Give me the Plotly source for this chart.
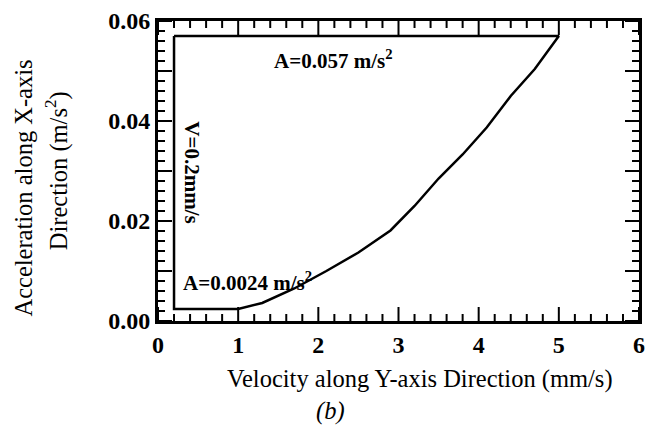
import numpy as np
import plotly.graph_objects as go

# Lower acceleration limit as a function of Y-axis velocity (mm/s, m/s^2)
velocity = [1.0, 1.3, 1.7, 2.1, 2.5, 2.9, 3.2, 3.5, 3.8, 4.1, 4.4, 4.7, 5.0]
accel = [0.0024, 0.0036, 0.0065, 0.0100, 0.0137, 0.0181, 0.0230, 0.0285,
         0.0333, 0.0387, 0.0450, 0.0504, 0.057]

V_MIN = 0.2      # minimum velocity, mm/s
A_MIN = 0.0024   # minimum acceleration, m/s^2
A_MAX = 0.057    # maximum acceleration, m/s^2

X_RANGE = [0, 6]
Y_RANGE = [0, 0.06]
x_labels = [0, 1, 2, 3, 4, 5, 6]
x_labeltext = ["0", "1", "2", "3", "4", "5", "6"]
y_labels = [0.00, 0.02, 0.04, 0.06]
y_labeltext = ["0.00", "0.02", "0.04", "0.06"]

# tick mark positions: majors every 1 / 0.01, minors every 0.2 / 0.002
x_major = np.arange(0, 6.001, 1.0)
x_minor = np.array([v for v in np.arange(0, 6.001, 0.2)
                    if abs(v - round(v)) > 1e-6])
y_major = np.arange(0, 0.06001, 0.01)
y_minor = np.array([v for v in np.arange(0, 0.06001, 0.002)
                    if abs(v / 0.01 - round(v / 0.01)) > 1e-6])

# Closed boundary of the admissible region
xs = [V_MIN, V_MIN] + velocity + [V_MIN]
ys = [A_MAX, A_MIN] + accel + [A_MAX]

SERIF = "Liberation Serif"

fig = go.Figure()
fig.add_trace(go.Scatter(x=xs, y=ys, mode="lines",
                         line=dict(color="black", width=2.5),
                         showlegend=False, hoverinfo="skip"))

# Inward tick marks on all four frame edges: line markers centred on the
# edge, with the outer half clipped away by the plot area.
def tick_trace(x, y, symbol, size):
    return go.Scatter(x=x, y=y, mode="markers", cliponaxis=True,
                      marker=dict(symbol=symbol, size=size, color="black",
                                  line=dict(color="black", width=2)),
                      showlegend=False, hoverinfo="skip")

for edge in Y_RANGE:
    fig.add_trace(tick_trace(x_major, np.full(len(x_major), edge), "line-ns", 20))
    fig.add_trace(tick_trace(x_minor, np.full(len(x_minor), edge), "line-ns", 10))
for edge in X_RANGE:
    fig.add_trace(tick_trace(np.full(len(y_major), edge), y_major, "line-ew", 20))
    fig.add_trace(tick_trace(np.full(len(y_minor), edge), y_minor, "line-ew", 10))

tick_font = dict(family=SERIF, size=24, color="black")

fig.update_layout(
    xaxis=dict(range=X_RANGE, tickmode="array", tickvals=x_labels,
               ticktext=["<b>%s</b>" % t for t in x_labeltext],
               showgrid=False, zeroline=False, ticks="",
               showline=True, linecolor="black", linewidth=3, mirror=True,
               tickfont=tick_font),
    yaxis=dict(range=Y_RANGE, tickmode="array", tickvals=y_labels,
               ticktext=["<b>%s</b>" % t for t in y_labeltext],
               showgrid=False, zeroline=False, ticks="",
               showline=True, linecolor="black", linewidth=3, mirror=True,
               tickfont=tick_font),
)

label_font = dict(family=SERIF, size=21, color="black")
title_font = dict(family=SERIF, size=24.5, color="black")

annotations = [
    dict(x=2.18, y=0.0523, xref="x", yref="y", showarrow=False,
         text="<b>A=0.057 m/s<sup>2</sup></b>", font=label_font),
    dict(x=0.29, y=0.0079, xref="x", yref="y", showarrow=False,
         xanchor="left", text="<b>A=0.0024 m/s<sup>2</sup></b>", font=label_font),
    dict(x=0.42, y=0.0298, xref="x", yref="y", showarrow=False,
         textangle=90, text="<b>V=0.2mm/s</b>", font=label_font),
    # axis titles and caption
    dict(x=423, y=379, showarrow=False,
         text="Velocity along Y-axis Direction (mm/s)", font=title_font),
    dict(x=22, y=187, showarrow=False, textangle=-90,
         text="Acceleration along X-axis", font=title_font),
    dict(x=55, y=170, showarrow=False, textangle=-90,
         text="Direction (m/s<sup>2</sup>)", font=title_font),
    dict(x=333, y=412, showarrow=False, text="<i>(b)</i>", font=title_font),
]

# convert pixel-positioned labels to paper coordinates
W, H = 653, 429
L, R, T, B = 158, 8, 19, 108
pw, ph = W - L - R, H - T - B
for a in annotations:
    if a.get("xref") != "x":
        px, py = a["x"], a["y"]
        a["xref"], a["yref"] = "paper", "paper"
        a["x"] = (px - L) / pw
        a["y"] = (H - B - py) / ph
        a["xanchor"] = "center"
        a["yanchor"] = "middle"

fig.update_layout(
    width=W, height=H,
    margin=dict(l=L, r=R, t=T, b=B),
    paper_bgcolor="white", plot_bgcolor="white",
    font=dict(family=SERIF, color="black"),
    annotations=annotations,
)

fig.write_html("out.html")
